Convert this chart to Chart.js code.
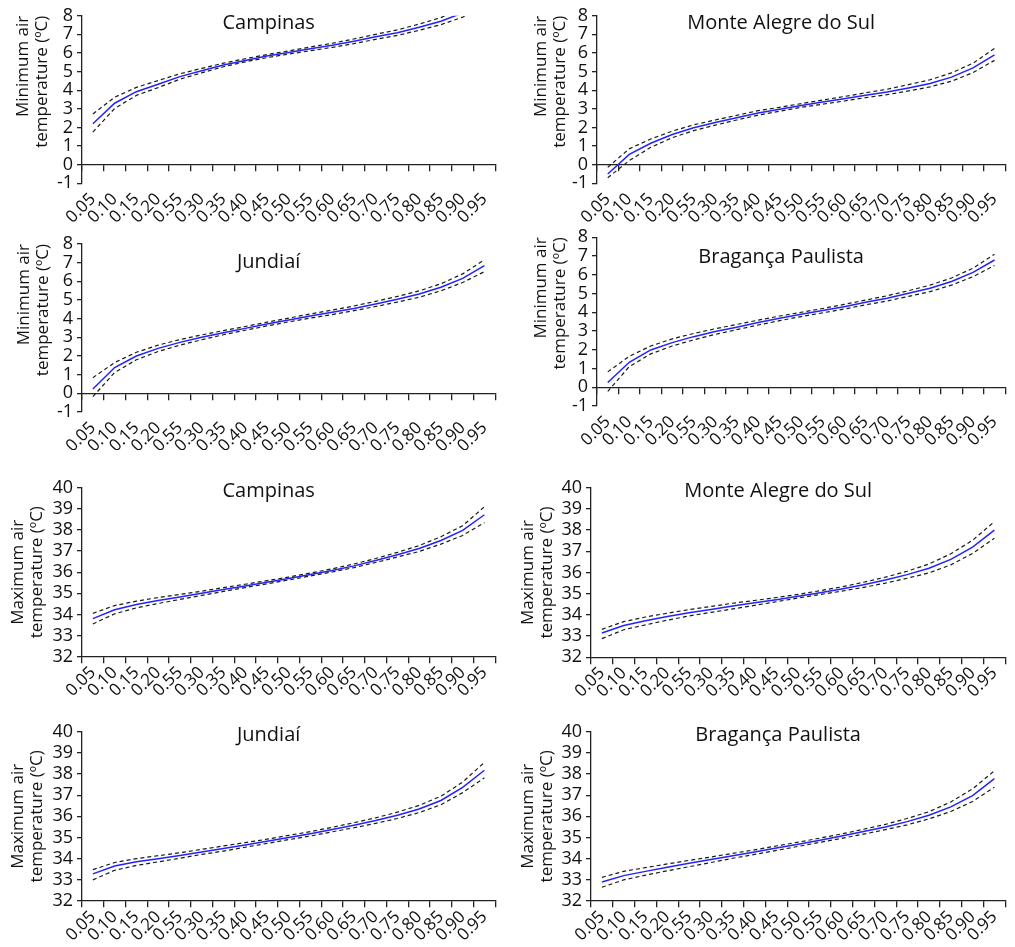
<!DOCTYPE html>
<html>
<head>
<meta charset="utf-8">
<script src="https://cdn.jsdelivr.net/npm/chart.js@4/dist/chart.umd.min.js"></script>
<style>
  html, body { margin: 0; padding: 0; background: #ffffff; }
  body { position: relative; width: 1015px; height: 947px; overflow: hidden; }
  canvas { position: absolute; }
</style>
</head>
<body>
<script>
// Quantile categories along the x axis (label text as printed)
const quantileLabels = ['0.05','0.10','0.15','0.20','0.55','0.30','0.35','0.40','0.45','0.50',
                        '0.55','0.60','0.65','0.70','0.75','0.80','0.85','0.90','0.95'];
const stationNames = ['Campinas', 'Monte Alegre do Sul', 'Jundiaí', 'Bragança Paulista'];
const minAxisTitle = ['Minimum air', 'temperature (ºC)'];
const maxAxisTitle = ['Maximum air', 'temperature (ºC)'];
const minRange = [-1, 8];
const maxRange = [32, 40];

// Minimum air temperature: estimated quantile and its confidence band
const campinasMinMedian = [2.2, 3.3, 3.92, 4.32, 4.73, 5.04, 5.35, 5.6, 5.83, 6.02, 6.22, 6.41, 6.63, 6.87, 7.09, 7.38, 7.7, 8.15, 8.8];
const campinasMinUpper  = [2.72, 3.62, 4.15, 4.52, 4.88, 5.17, 5.45, 5.69, 5.91, 6.11, 6.32, 6.52, 6.75, 7.0, 7.24, 7.55, 7.9, 8.4, 9.1];
const campinasMinLower  = [1.75, 3.02, 3.72, 4.14, 4.59, 4.93, 5.26, 5.52, 5.75, 5.94, 6.12, 6.3, 6.5, 6.73, 6.94, 7.22, 7.52, 7.92, 8.5];

const monteAlegreMinMedian = [-0.5, 0.55, 1.15, 1.62, 1.98, 2.26, 2.52, 2.78, 2.98, 3.18, 3.36, 3.54, 3.73, 3.9, 4.12, 4.36, 4.7, 5.2, 5.9];
const monteAlegreMinUpper  = [-0.14, 0.85, 1.38, 1.8, 2.14, 2.4, 2.65, 2.9, 3.08, 3.28, 3.47, 3.66, 3.86, 4.05, 4.3, 4.56, 4.93, 5.45, 6.25];
const monteAlegreMinLower  = [-0.7, 0.22, 0.93, 1.45, 1.83, 2.12, 2.4, 2.66, 2.87, 3.08, 3.25, 3.42, 3.6, 3.76, 3.96, 4.18, 4.48, 4.95, 5.6];

const jundiaiMinMedian = [0.23, 1.38, 2.0, 2.41, 2.73, 3.0, 3.25, 3.48, 3.71, 3.93, 4.14, 4.34, 4.55, 4.79, 5.04, 5.32, 5.68, 6.16, 6.84];
const jundiaiMinUpper  = [0.84, 1.65, 2.2, 2.58, 2.88, 3.13, 3.36, 3.58, 3.81, 4.03, 4.25, 4.46, 4.68, 4.93, 5.19, 5.49, 5.87, 6.4, 7.15];
const jundiaiMinLower  = [-0.18, 1.12, 1.8, 2.24, 2.58, 2.87, 3.14, 3.38, 3.61, 3.83, 4.03, 4.22, 4.43, 4.65, 4.89, 5.15, 5.49, 5.94, 6.52];

const bragancaMinMedian = [0.25, 1.33, 1.99, 2.38, 2.7, 2.97, 3.2, 3.45, 3.68, 3.89, 4.09, 4.3, 4.53, 4.75, 5.01, 5.28, 5.64, 6.13, 6.79];
const bragancaMinUpper  = [0.82, 1.65, 2.2, 2.58, 2.87, 3.12, 3.35, 3.58, 3.8, 4.0, 4.2, 4.42, 4.65, 4.88, 5.15, 5.45, 5.83, 6.35, 7.1];
const bragancaMinLower  = [-0.22, 1.1, 1.78, 2.2, 2.53, 2.82, 3.07, 3.32, 3.55, 3.77, 3.97, 4.17, 4.4, 4.6, 4.85, 5.1, 5.45, 5.9, 6.5];

// Maximum air temperature: estimated quantile and its confidence band
const campinasMaxMedian = [33.8, 34.22, 34.47, 34.66, 34.83, 35.0, 35.18, 35.35, 35.52, 35.7, 35.89, 36.08, 36.3, 36.55, 36.83, 37.12, 37.5, 37.98, 38.72];
const campinasMaxUpper  = [34.05, 34.42, 34.63, 34.8, 34.95, 35.1, 35.27, 35.43, 35.6, 35.77, 35.96, 36.16, 36.39, 36.65, 36.94, 37.26, 37.68, 38.2, 39.1];
const campinasMaxLower  = [33.55, 34.03, 34.31, 34.52, 34.71, 34.9, 35.09, 35.27, 35.45, 35.63, 35.82, 36.01, 36.22, 36.46, 36.72, 36.98, 37.33, 37.74, 38.35];

const monteAlegreMaxMedian = [33.15, 33.5, 33.72, 33.92, 34.1, 34.26, 34.42, 34.57, 34.72, 34.88, 35.04, 35.22, 35.42, 35.65, 35.9, 36.2, 36.62, 37.2, 38.0];
const monteAlegreMaxUpper  = [33.32, 33.68, 33.9, 34.08, 34.25, 34.4, 34.55, 34.68, 34.82, 34.97, 35.14, 35.32, 35.54, 35.78, 36.06, 36.4, 36.88, 37.52, 38.4];
const monteAlegreMaxLower  = [32.88, 33.3, 33.53, 33.75, 33.95, 34.12, 34.28, 34.45, 34.62, 34.8, 34.96, 35.12, 35.3, 35.5, 35.73, 35.98, 36.36, 36.9, 37.62];

const jundiaiMaxMedian = [33.28, 33.65, 33.85, 34.0, 34.15, 34.32, 34.48, 34.65, 34.82, 35.0, 35.18, 35.38, 35.58, 35.8, 36.05, 36.35, 36.75, 37.37, 38.18];
const jundiaiMaxUpper  = [33.48, 33.82, 34.0, 34.14, 34.28, 34.44, 34.6, 34.76, 34.92, 35.1, 35.28, 35.48, 35.7, 35.93, 36.2, 36.52, 36.95, 37.62, 38.55];
const jundiaiMaxLower  = [33.0, 33.45, 33.68, 33.85, 34.02, 34.2, 34.36, 34.54, 34.72, 34.9, 35.07, 35.27, 35.46, 35.67, 35.9, 36.18, 36.55, 37.12, 37.82];

const bragancaMaxMedian = [32.9, 33.2, 33.4, 33.6, 33.78, 33.96, 34.14, 34.32, 34.5, 34.68, 34.87, 35.07, 35.28, 35.5, 35.75, 36.05, 36.45, 36.98, 37.78];
const bragancaMaxUpper  = [33.12, 33.4, 33.58, 33.75, 33.92, 34.08, 34.25, 34.42, 34.6, 34.78, 34.97, 35.17, 35.39, 35.62, 35.9, 36.22, 36.68, 37.3, 38.15];
const bragancaMaxLower  = [32.65, 33.0, 33.22, 33.43, 33.62, 33.82, 34.02, 34.2, 34.39, 34.58, 34.77, 34.96, 35.16, 35.37, 35.6, 35.88, 36.23, 36.7, 37.38];

const FONT = "'Open Sans', 'Noto Sans', sans-serif";
const INK = '#111111';
const AXIS = '#222222';

// Station name drawn inside the plot area, above the curves
Chart.register({
  id: 'panelTitle',
  afterDatasetsDraw(chart, args, opts) {
    if (!opts || !opts.text) return;
    const a = chart.chartArea;
    const ctx = chart.ctx;
    ctx.save();
    ctx.font = `20px ${FONT}`;
    ctx.fillStyle = INK;
    ctx.textAlign = 'center';
    ctx.textBaseline = 'middle';
    ctx.fillText(opts.text, (a.left + a.right) / 2 + opts.dx, a.top + opts.dy);
    ctx.restore();
  }
});

// Panel layout: canvas box, plot-area edges and text placement
const panels = [
  { name: stationNames[0], median: campinasMinMedian, upper: campinasMinUpper, lower: campinasMinLower,
    range: minRange, axisTitle: minAxisTitle, titleAlign: 'end', titlePad: 13,
    box: { x: 0, y: 0, w: 505, h: 222 }, area: { left: 82, top: 15.7, right: 499, bottom: 183.3 }, nameDy: 8 },
  { name: stationNames[1], median: monteAlegreMinMedian, upper: monteAlegreMinUpper, lower: monteAlegreMinLower,
    range: minRange, axisTitle: minAxisTitle, titleAlign: 'end', titlePad: 26,
    box: { x: 505, y: 0, w: 510, h: 222 }, area: { left: 597, top: 15.7, right: 1013, bottom: 183.3 }, nameDy: 8 },
  { name: stationNames[2], median: jundiaiMinMedian, upper: jundiaiMinUpper, lower: jundiaiMinLower,
    range: minRange, axisTitle: minAxisTitle, titleAlign: 'end', titlePad: 14,
    box: { x: 0, y: 222, w: 505, h: 228 }, area: { left: 82, top: 244, right: 499, bottom: 412 }, nameDy: 18 },
  { name: stationNames[3], median: bragancaMinMedian, upper: bragancaMinUpper, lower: bragancaMinLower,
    range: minRange, axisTitle: minAxisTitle, titleAlign: 'end', titlePad: 26,
    box: { x: 505, y: 222, w: 510, h: 228 }, area: { left: 597, top: 237.3, right: 1013, bottom: 406 }, nameDy: 20 },
  { name: stationNames[0], median: campinasMaxMedian, upper: campinasMaxUpper, lower: campinasMaxLower,
    range: maxRange, axisTitle: maxAxisTitle, titleAlign: 'center', titlePad: 8,
    box: { x: 0, y: 450, w: 505, h: 250 }, area: { left: 82, top: 487.7, right: 499, bottom: 656.7 }, nameDy: 4 },
  { name: stationNames[1], median: monteAlegreMaxMedian, upper: monteAlegreMaxUpper, lower: monteAlegreMaxLower,
    range: maxRange, axisTitle: maxAxisTitle, titleAlign: 'center', titlePad: 13,
    box: { x: 505, y: 450, w: 510, h: 250 }, area: { left: 591, top: 487.7, right: 1008, bottom: 657.3 }, nameDy: 4 },
  { name: stationNames[2], median: jundiaiMaxMedian, upper: jundiaiMaxUpper, lower: jundiaiMaxLower,
    range: maxRange, axisTitle: maxAxisTitle, titleAlign: 'center', titlePad: 8,
    box: { x: 0, y: 700, w: 505, h: 247 }, area: { left: 82, top: 731.7, right: 499, bottom: 901 }, nameDy: 4 },
  { name: stationNames[3], median: bragancaMaxMedian, upper: bragancaMaxUpper, lower: bragancaMaxLower,
    range: maxRange, axisTitle: maxAxisTitle, titleAlign: 'center', titlePad: 13,
    box: { x: 505, y: 700, w: 510, h: 247 }, area: { left: 591, top: 731.7, right: 1008, bottom: 901 }, nameDy: 4 }
];

function bandLine(values) {
  return { data: values, borderColor: '#1a1a1a', borderWidth: 1.2, borderDash: [4, 3], fill: false };
}

panels.forEach((p) => {
  const canvas = document.createElement('canvas');
  canvas.width = p.box.w;
  canvas.height = p.box.h;
  canvas.style.left = p.box.x + 'px';
  canvas.style.top = p.box.y + 'px';
  canvas.style.width = p.box.w + 'px';
  canvas.style.height = p.box.h + 'px';
  document.body.appendChild(canvas);

  const yAxisWidth = p.area.left - p.box.x;
  const xAxisHeight = p.box.y + p.box.h - p.area.bottom;
  const crossAt = p.range[0] < 0 ? 0 : p.range[0];

  new Chart(canvas, {
    type: 'line',
    data: {
      labels: quantileLabels,
      datasets: [
        bandLine(p.upper),
        bandLine(p.lower),
        { data: p.median, borderColor: '#2323ff', borderWidth: 1.5, fill: false }
      ]
    },
    options: {
      responsive: false,
      animation: false,
      devicePixelRatio: 1,
      layout: { padding: { top: p.area.top - p.box.y, right: p.box.x + p.box.w - p.area.right, left: 0, bottom: 0 } },
      elements: { point: { radius: 0, hoverRadius: 0 }, line: { tension: 0 } },
      plugins: {
        legend: { display: false },
        tooltip: { enabled: false },
        panelTitle: { text: p.name, dx: -20, dy: p.nameDy }
      },
      scales: {
        x: {
          type: 'category',
          position: 'bottom',
          offset: true,
          grid: { display: false, drawTicks: false },
          border: { display: false },
          ticks: {
            autoSkip: false, minRotation: 45, maxRotation: 45, padding: 6,
            color: INK, font: { family: FONT, size: 17 }
          },
          afterFit: (s) => { s.height = xAxisHeight; }
        },
        xAxisLine: {
          type: 'category',
          position: { y: crossAt },
          offset: true,
          grid: { display: true, drawOnChartArea: false, drawTicks: true, tickLength: 6, offset: true, color: AXIS, lineWidth: 1.3 },
          border: { display: true, color: AXIS, width: 1.3 },
          ticks: { display: false }
        },
        y: {
          type: 'linear',
          position: 'left',
          min: p.range[0],
          max: p.range[1],
          ticks: { stepSize: 1, autoSkip: false, padding: 4, color: INK, font: { family: FONT, size: 18 } },
          grid: { drawOnChartArea: false, drawTicks: true, tickLength: 5, color: AXIS, lineWidth: 1.3 },
          border: { display: true, color: AXIS, width: 1.3 },
          title: {
            display: true, text: p.axisTitle, align: p.titleAlign, color: INK,
            padding: { top: p.titlePad, bottom: 0 },
            font: { family: FONT, size: 17, lineHeight: 1.15 }
          },
          afterFit: (s) => { s.width = yAxisWidth; }
        }
      }
    }
  });
});
</script>
</body>
</html>
